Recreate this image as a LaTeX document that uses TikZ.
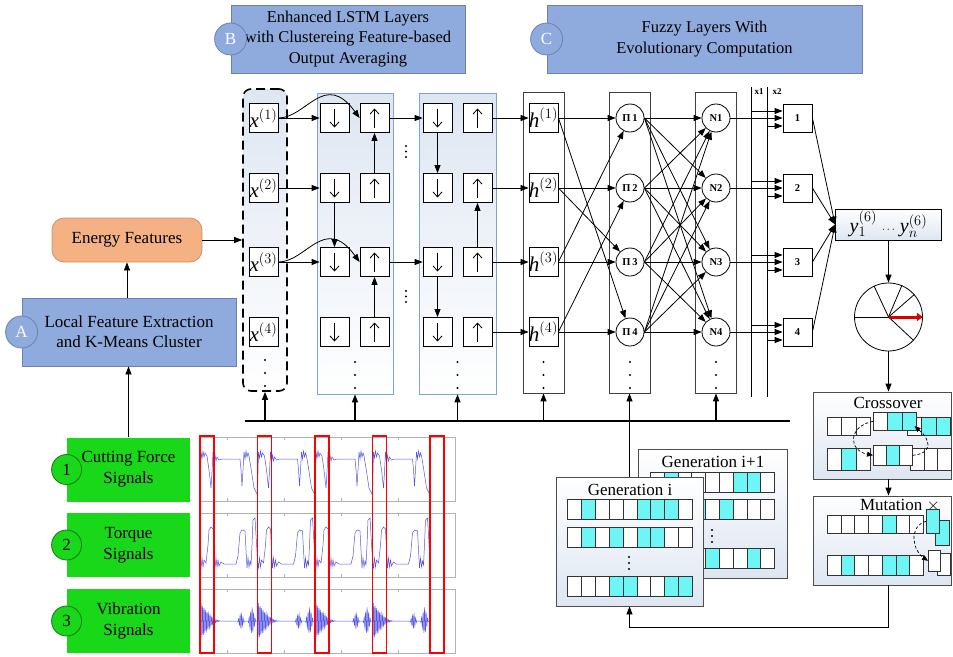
\documentclass[tikz,border=0pt]{standalone}
\usepackage{fontspec}
\setmainfont{Liberation Serif}
\usetikzlibrary{arrows.meta,calc}

% colours
\definecolor{titleblue}{RGB}{143,170,220}
\definecolor{titleedge}{RGB}{105,130,180}
\definecolor{energyorange}{RGB}{244,177,131}
\definecolor{energyedge}{RGB}{205,145,105}
\definecolor{siggreen}{RGB}{25,215,25}
\definecolor{sigedge}{RGB}{20,120,20}
\definecolor{genecyan}{RGB}{110,245,245}
\definecolor{wavblue}{RGB}{85,85,230}
\definecolor{layeredge}{RGB}{125,165,210}
\definecolor{softfill}{RGB}{222,230,242}
\colorlet{gene0}{white}
\colorlet{gene1}{genecyan}

\tikzset{
  >={Triangle[length=8pt,width=6pt]},
  titlebox/.style={draw=titleedge, fill=titleblue, minimum height=68, align=center,
    font=\fontsize{16.5}{20.5}\selectfont},
  tag/.style={circle, draw=titleedge, fill=titleblue, minimum size=32, inner sep=0,
    text=white, font=\fontsize{17}{17}\selectfont},
  energybox/.style={draw=energyedge, fill=energyorange, rounded corners=12,
    minimum width=150, minimum height=44},
  sigbox/.style={fill=siggreen, minimum width=123, minimum height=64, align=center,
    font=\fontsize{17}{21}\selectfont},
  sigtag/.style={circle, draw=sigedge, fill=siggreen, minimum size=30, inner sep=0},
  panel/.style={draw=gray!60, minimum width=255, minimum height=64, inner sep=0},
  wave/.style={draw=wavblue, line width=0.5pt},
  redbox/.style={draw=red, line width=1.4pt},
  lstmbox/.style={draw=layeredge, top color=softfill, bottom color=white,
    minimum width=76, minimum height=301},
  layerbox/.style={draw=black!75, fill=white, minimum width=41, minimum height=301},
  cell/.style={draw, fill=white, minimum size=29, inner sep=0,
    font=\fontsize{21}{21}\selectfont},
  downcell/.style={cell, path picture={\draw[-{Straight Barb[length=5pt,width=9pt]}]
    ([yshift=-5pt]path picture bounding box.north) -- ([yshift=5pt]path picture bounding box.south);}},
  upcell/.style={cell, path picture={\draw[-{Straight Barb[length=5pt,width=9pt]}]
    ([yshift=5pt]path picture bounding box.south) -- ([yshift=-5pt]path picture bounding box.north);}},
  fuzzy/.style={circle, draw, fill=white, minimum size=28, inner sep=0,
    font=\bfseries\fontsize{10.5}{10.5}\selectfont},
  outbox/.style={draw, fill=white, minimum width=29, minimum height=28, inner sep=0,
    font=\bfseries\fontsize{10.5}{10.5}\selectfont},
  evobox/.style={draw=black!70, top color=white, bottom color=softfill, inner sep=0},
  gene/.style={draw=black!80, line width=0.6pt, inner sep=0},
  swap/.style={->, densely dashed, line width=0.7pt, >={Triangle[length=6pt,width=5pt]}},
}

% a row of genes: name, x, y, cell width, cell height, pattern
\newcommand{\genes}[6]{%
  \foreach \g [count=\k from 0] in {#6}
    \node[gene, fill=gene\g, minimum width=#4, minimum height=#5, anchor=north west]
      (#1-\k) at ({#2+\k*#4},#3) {};
}
% three dots in a column: x, top y, gap
\newcommand{\laydots}[3]{%
  \foreach \d in {0,1,2} \fill (#1,{#2+\d*#3}) circle[radius=1.1pt];
}
\newcommand{\vsym}[2]{$\mbox{\itshape #1}^{(#2)}$}

\begin{document}
\begin{tikzpicture}[x=1pt, y=-1pt, line width=0.8pt, font=\fontsize{17}{20}\selectfont]
\fill[white] (0,0) rectangle (953,656);
\useasboundingbox (0,0) rectangle (953,656);

% headers
\node[titlebox, minimum width=234] (tb) at (348,39)
  {Enhanced LSTM Layers\\with Clustereing Feature-based\\Output Averaging};
\node[tag] (tagb) at (tb.west) {B};
\node[titlebox, minimum width=315] (tc) at (704.5,39)
  {Fuzzy Layers With\\Evolutionary Computation};
\node[tag] (tagc) at (tc.west) {C};

% feature extraction
\node[titlebox, minimum width=214, font=\fontsize{17}{20}\selectfont] (loc) at (129,332)
  {Local Feature Extraction\\and K-Means Cluster};
\node[tag] (taga) at (loc.west) {A};
\node[energybox] (energy) at (127,240) {Energy Features};

% signal sources
\foreach \r/\yy/\txt in {1/469.5/{Cutting Force\\Signals},2/545/{Torque\\Signals},3/621/{Vibration\\Signals}}{
  \node[sigbox] (sig\r) at (128.5,\yy) {\txt};
  \node[sigtag] (sn\r) at (sig\r.west) {\r};
}
\foreach \r/\top in {1/437,2/513,3/589}{
  \node[panel, anchor=north west] (pan\r) at (200,\top) {};
  \foreach \tx in {227,284,341,398}
    \draw[gray!60, line width=0.4pt] (\tx,\top) -- ++(0,3) (\tx,{\top+64}) -- ++(0,-3);
}
\foreach \k in {0,...,3}{
  \begin{scope}[xshift={200+57.5*\k}]
    \draw[wave] plot coordinates {(0,495) (1,452) (2,458) (3,451) (4,457) (5,453) (7,456)
      (9,470) (11,488) (12,472) (13,452) (14,463) (15,455) (16,461) (17,457) (19,460)
      (22,459) (40,459) (41,470) (42,486) (43,470) (44,452) (45,459) (46,451) (47,457)
      (48,453) (49,456) (51,468) (54,488) (57.5,495)};
    \draw[wave] plot coordinates {(0,560) (1,568) (2,558) (3,567) (4,560) (6,563) (8,545)
      (9,530) (11,527) (13,529) (14,550) (15,568) (16,558) (17,567) (18,560) (19,566)
      (21,562) (24,564) (36,564) (37,560) (38,556) (40,533) (42,530) (45,531) (46,550)
      (47,568) (48,558) (49,567) (50,561) (51,565) (52,545) (53,520) (55,518) (56,535)
      (57.5,560)};
    \draw[wave] plot[domain=0:57.5, samples=320]
      (\x,{621+(20*(max(0,1-\x/22))^2+8*max(0,1-abs(\x-41)/3.5)+14*max(0,1-abs(\x-52)/4))*sin(240*\x)});
  \end{scope}
}
\foreach \xx in {200,257.5,315,372.5,430}
  \draw[redbox] (\xx,436) rectangle ++(14,217);

% layer columns
\node[draw, dash pattern=on 9pt off 5pt, line width=1.6pt, rounded corners=8,
  top color=softfill, bottom color=white, minimum width=44, minimum height=302] (xcol) at (265,240) {};
\node[lstmbox] (la) at (355,243.5) {};
\node[lstmbox, minimum width=77] (lb) at (457.5,243.5) {};
\node[layerbox] (hl) at (543.5,242.5) {};
\node[layerbox] (pl) at (629.5,242.5) {};
\node[layerbox] (nl) at (716,242.5) {};

\draw[->] (sig1.north) -- (sig1.north |- loc.south);
\draw[->] (energy.south |- loc.north) -- (energy.south);
\draw[->] (energy.east) -- (energy.east -| xcol.west);

\foreach \r/\yy in {1/118,2/188,3/262,4/332}{
  \node[cell] (x\r) at (263.5,\yy) {\vsym{x}{\r}};
  \node[downcell] (da\r) at (334.5,\yy) {};
  \node[upcell] (ua\r) at (374.5,\yy) {};
  \node[downcell] (db\r) at (437.5,\yy) {};
  \node[upcell] (ub\r) at (477.5,\yy) {};
  \node[cell] (h\r) at (543.5,\yy) {\vsym{h}{\r}};
  \node[fuzzy] (p\r) at (630,\yy) {Π\,\r};
  \node[fuzzy] (n\r) at (716,\yy) {N\r};
  \node[outbox] (o\r) at (797.5,\yy) {\r};
}
\laydots{265}{360}{13}
\foreach \cx in {355,457.5,543.5,630,716} {\laydots{\cx}{362}{13}}
\laydots{406}{146}{5.5}
\laydots{406}{291}{5.5}

% LSTM links
\draw[->] (x1.east) -- (da1.west);
\draw[->] (x1.east) .. controls +(28,0) and +(-35,-48) .. (ua1.west);
\draw[->] (x2.east) -- (da2.west);
\draw[->] (x3.east) -- (da3.west);
\draw[->] (x3.east) .. controls +(28,0) and +(-35,-48) .. (ua3.west);
\draw[->] (ua2) -- (ua1);
\draw[->] (da2) -- (da3);
\draw[->] (ua4) -- (ua3);
\draw[->] (ua1) -- (db1);
\draw[->] (ua3) -- (db3);
\draw[->] (db1) -- (db2);
\draw[->] (db3) -- (db4);
\draw[->] (ub3) -- (ub2);
\foreach \r in {1,...,4} \draw[->] (ub\r) -- (h\r);

% fuzzy links
\foreach \a/\b in {1/1,1/4,2/2,2/3,3/3,3/1,4/4,4/2} \draw[->] (h\a.east) -- (p\b);
\foreach \a in {1,...,4} \foreach \b in {1,...,4} \draw[->] (p\a.east) -- (n\b);

\coordinate (xa) at (751,87); \coordinate (xaend) at (751,397);
\coordinate (xb) at (767,87); \coordinate (xbend) at (767,397);
\draw (xa) -- (xaend);
\draw (xb) -- (xbend);
\node[font=\bfseries\fontsize{9}{9}\selectfont] (lxa) at (759,92) {x1};
\node[font=\bfseries\fontsize{9}{9}\selectfont] (lxb) at (777,92) {x2};

\node[draw, top color=white, bottom color=softfill, minimum width=106, minimum height=31,
  inner sep=0, font=\fontsize{20}{20}\selectfont] (ybox) at (888.5,224.5)
  {$\mbox{\itshape y}_1^{(6)}$\hspace{5pt}{\fontsize{11}{11}\selectfont$\cdots$}\hspace{5pt}$\mbox{\itshape y}_n^{(6)}$};
\foreach \r in {1,...,4}{
  \draw[->] (n\r) -- (o\r);
  \draw[->] ($(o\r.west -| xa)+(0,-7)$) -- ($(o\r.west)+(0,-7)$);
  \draw[->] ($(o\r.west -| xb)+(0,8)$) -- ($(o\r.west)+(0,8)$);
  \draw[->] (o\r.east) -- (ybox.west);
}

% control bus
\coordinate (bus) at (245,421);
\coordinate (busend) at (790,421);
\draw[line width=1.8pt] (bus) -- (busend);
\foreach \b in {xcol,la,lb,hl,nl} \draw[->, line width=1.2pt] (\b.south |- bus) -- (\b.south);

% roulette wheel
\node[circle, draw, fill=white, minimum size=68, inner sep=0] (wheel) at (888.5,317) {};
\foreach \a in {115,67,41,180,317} \draw (wheel.center) -- (wheel.\a);
\draw[line width=3pt, draw=red!85!black, -{Triangle[length=6pt,width=8pt]}] (wheel.center) -- (wheel.east);
\draw[->] (ybox.south) -- (wheel.north);

% crossover
\node[evobox, minimum width=138, minimum height=87] (cross) at (882,435.5) {};
\node (crosst) at (888,403) {Crossover};
\genes{ca}{827}{417}{14.3}{18}{0,0,0}
\genes{cc}{907}{417}{14.3}{18}{0,1,1}
\genes{cb}{873}{412}{14.3}{18}{0,1,1}
\genes{cd}{827}{448}{14.3}{22}{0,1,0}
\genes{cf}{910}{448}{13.5}{22}{0,0,0}
\genes{ce}{873}{445}{13}{20}{0,1,0}
\draw[swap] (cb-0.west) .. controls +(-25,5) and +(-25,-5) .. (ce-0.west);
\draw[swap] (ce-2.east) .. controls +(22,-2) and +(15,12) .. (cc-0.center);

% mutation
\node[evobox, minimum width=138, minimum height=89] (mut) at (882,540.5) {};
\node (mutt) at (900,506) {Mutation $\times$};
\genes{ma}{827}{515}{13.7}{18}{0,0,0,0,1,0,0}
\genes{mc}{935}{520}{14}{25}{1}
\genes{mb}{926}{509}{13}{24}{1}
\genes{md}{827}{555}{13.7}{20}{0,1,0,0,1,1,0}
\genes{mf}{937}{553}{13}{22}{0}
\genes{me}{928}{550}{12}{21}{0}
\draw[swap] (mb-0.west) .. controls +(-18,5) and +(-15,-10) .. (me-0.west);

\draw[->] (wheel.south) -- (wheel.south |- cross.north);
\draw[->] (wheel.south |- cross.south) -- (wheel.south |- mut.north);

% populations
\node[evobox, minimum width=149, minimum height=129] (genj) at (712.5,513.5) {};
\node (genjt) at (713,462) {Generation i+1};
\genes{gja}{650}{472}{13.8}{20}{0,1,0,0,0,0,1,1,0}
\genes{gjb}{650}{499}{13.8}{20}{0,0,0,1,0,1,0,0,0}
\genes{gjc}{650}{548}{13.8}{20}{0,0,0,0,1,0,0,1,0}
\laydots{712}{530}{6}

\node[evobox, minimum width=147, minimum height=129] (geni) at (629.5,541.5) {};
\node (genit) at (630,490) {Generation i};
\genes{gia}{567}{499}{13.9}{20}{0,1,0,0,0,1,1,1,0}
\genes{gib}{567}{527}{13.9}{20}{0,1,0,1,0,1,1,0,0}
\genes{gic}{567}{576}{13.9}{20}{0,0,0,1,1,0,0,1,1}
\laydots{629}{557}{6}

\draw[->] (geni.north) -- (pl.south);
\draw[->] (wheel.south |- mut.south) -- ++(0,42) -| (geni.south);
\end{tikzpicture}
\end{document}
